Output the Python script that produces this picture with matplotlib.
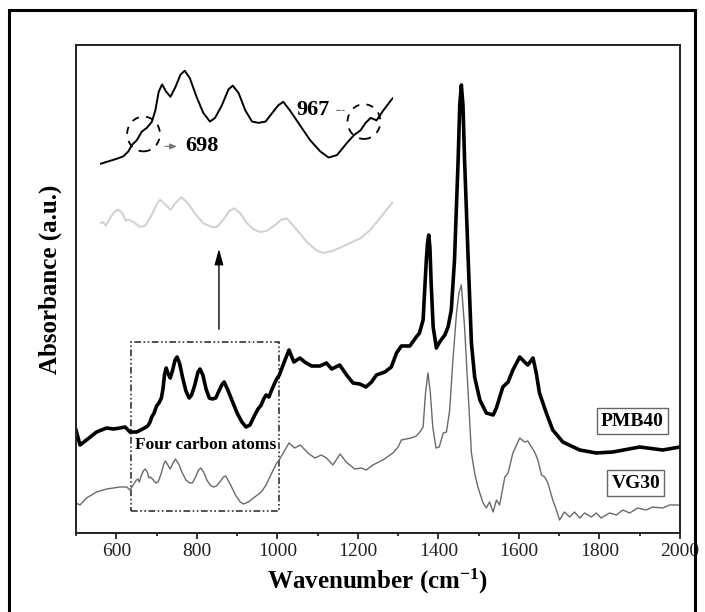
import matplotlib.pyplot as plt
from matplotlib.patches import Ellipse, Rectangle
from matplotlib.ticker import MultipleLocator

plt.rcParams['font.family'] = 'Liberation Serif'
plt.rcParams['mathtext.fontset'] = 'custom'
plt.rcParams['mathtext.rm'] = 'Liberation Serif:bold'

# FTIR spectra, absorbance in arbitrary units (offset for clarity)
pmb40_wn = [500, 510, 526, 551, 576, 593, 609, 622, 634, 651,
            670, 678, 684, 688, 694, 700, 706, 712, 716, 720,
            724, 729, 734, 740, 746, 751, 757, 765, 773, 781,
            787, 795, 803, 808, 815, 823, 831, 839, 847, 855,
            862, 868, 876, 888, 900, 912, 922, 932, 944, 952,
            960, 966, 972, 979, 987, 997, 1005, 1019, 1029, 1041,
            1056, 1068, 1085, 1106, 1122, 1135, 1155, 1172, 1188, 1205,
            1220, 1234, 1246, 1267, 1283, 1296, 1308, 1329, 1345, 1353,
            1362, 1370, 1373, 1376, 1379, 1382, 1387, 1395, 1403, 1416,
            1424, 1432, 1440, 1449, 1453, 1457, 1461, 1465, 1474, 1482,
            1490, 1503, 1519, 1536, 1544, 1560, 1573, 1585, 1602, 1614,
            1622, 1635, 1643, 1651, 1668, 1684, 1709, 1751, 1792, 1833,
            1900, 1957, 2000]
pmb40_abs = [103, 88, 93, 101, 105, 104, 105, 106, 101, 101,
             105, 107, 111, 116, 120, 127, 130, 135, 144, 159,
             165, 159, 155, 163, 173, 176, 170, 155, 142, 135,
             138, 148, 161, 164, 158, 144, 135, 134, 135, 142,
             148, 151, 144, 132, 120, 111, 106, 108, 118, 124,
             128, 134, 138, 136, 144, 153, 158, 173, 183, 171,
             175, 171, 167, 167, 170, 164, 168, 158, 150, 149,
             146, 151, 158, 161, 166, 180, 187, 187, 196, 200,
             213, 273, 290, 298, 285, 250, 206, 185, 191, 198,
             206, 223, 273, 373, 428, 448, 428, 373, 273, 190,
             156, 133, 120, 118, 125, 146, 151, 163, 176, 171,
             168, 175, 160, 140, 120, 103, 91, 83, 80, 81,
             86, 83, 86]

vg30_wn = [500, 510, 526, 551, 576, 609, 626, 634, 650, 654,
           657, 662, 667, 672, 677, 681, 684, 690, 698, 704,
           712, 718, 722, 728, 734, 741, 747, 755, 763, 773,
           783, 789, 797, 804, 810, 817, 825, 833, 841, 849,
           859, 866, 872, 876, 884, 896, 908, 916, 928, 944,
           960, 972, 984, 997, 1006, 1029, 1043, 1057, 1076, 1093,
           1109, 1122, 1138, 1156, 1171, 1192, 1208, 1221, 1237, 1262,
           1287, 1300, 1308, 1332, 1345, 1354, 1362, 1368, 1374, 1380,
           1386, 1394, 1402, 1412, 1420, 1428, 1436, 1445, 1451, 1457,
           1465, 1474, 1482, 1490, 1498, 1511, 1519, 1527, 1536, 1544,
           1552, 1565, 1573, 1585, 1602, 1614, 1622, 1631, 1639, 1647,
           1656, 1664, 1672, 1684, 1693, 1701, 1713, 1726, 1738, 1751,
           1763, 1780, 1792, 1804, 1825, 1842, 1858, 1875, 1895, 1916,
           1932, 1957, 1974, 2000]
vg30_abs = [30, 28, 35, 41, 44, 46, 46, 43, 53, 54,
            51, 57, 62, 64, 61, 55, 56, 54, 50, 51,
            60, 69, 72, 68, 64, 70, 74, 69, 61, 53,
            50, 50, 56, 63, 65, 61, 53, 48, 46, 47,
            52, 56, 57, 54, 48, 38, 31, 29, 31, 36,
            41, 48, 58, 69, 74, 90, 85, 88, 80, 75,
            78, 75, 68, 79, 71, 64, 65, 63, 68, 73,
            80, 86, 93, 95, 97, 101, 106, 140, 160, 140,
            106, 85, 86, 100, 101, 123, 173, 220, 240, 248,
            206, 140, 80, 60, 46, 30, 25, 31, 21, 33,
            28, 56, 60, 80, 95, 91, 92, 86, 81, 73,
            58, 56, 50, 33, 23, 13, 21, 16, 21, 15,
            20, 16, 20, 15, 20, 18, 23, 20, 25, 23,
            26, 25, 28, 28]

sample_names = ['PMB40', 'VG30']
peak_labels = ['698', '967']

fig = plt.figure(figsize=(7.05, 6.12), dpi=100)

# frame round the whole picture (bottom edge is cut off in the original)
fig.patches.append(Rectangle((9 / 705, -0.02), 686 / 705, 1.0037,
                             transform=fig.transFigure, fill=False,
                             lw=2.2, ec='black'))

ax = fig.add_axes([76 / 705, 79 / 612, 604 / 705, 488 / 612])
ax.plot(pmb40_wn, pmb40_abs, color='black', lw=2.6, solid_joinstyle='round')
ax.plot(vg30_wn, vg30_abs, color='#6a6a6a', lw=1.0)

ax.set_xlim(500, 2000)
ax.set_ylim(0, 488)
ax.xaxis.set_major_locator(MultipleLocator(200))
ax.xaxis.set_minor_locator(MultipleLocator(100))
ax.set_yticks([])
ax.tick_params(axis='x', which='major', direction='out', length=4.5, width=1.1,
               labelsize=14, pad=3, labelcolor='#222222')
ax.tick_params(axis='x', which='minor', direction='out', length=2.5, width=1.1)
for s in ax.spines.values():
    s.set_linewidth(1.4)
    s.set_color('#222222')

ax.set_xlabel('Wavenumber (cm$\\mathregular{^{-1}}$)', fontsize=18, fontweight='bold')
ax.xaxis.set_label_coords(0.5, -0.07)
ax.set_ylabel('Absorbance (a.u.)', fontsize=18, fontweight='bold')
ax.yaxis.set_label_coords(-0.024, 0.52)

# sample labels
ax.text(1882, 112, sample_names[0], ha='center', va='center', fontsize=14,
        fontweight='bold', bbox=dict(boxstyle='square,pad=0.22', fc='white',
                                     ec='#666666', lw=1))
ax.text(1890, 50, sample_names[1], ha='center', va='center', fontsize=14,
        fontweight='bold', bbox=dict(boxstyle='square,pad=0.22', fc='white',
                                     ec='#666666', lw=1))

# dashed region + label
ax.add_patch(Rectangle((636, 22), 369, 169, fill=False, ec='#333333', lw=1.2,
                       ls=(0, (4, 1.5, 1, 1.5, 1, 1.5))))
ax.text(822, 88, 'Four carbon atoms', ha='center', va='center', fontsize=12.5,
        fontweight='bold')
ax.annotate('', xy=(855, 287), xytext=(855, 201),
            arrowprops=dict(arrowstyle='-|>,head_length=0.8,head_width=0.22',
                            color='black', lw=1.0, mutation_scale=12))

# magnified view of the boxed region
ins = fig.add_axes([99.8 / 705, (612 - 264.2) / 612, 293.6 / 705, 210.8 / 612])
ins.axis('off')
ins.set_xlim(650, 999)
ins.set_ylim(20, 190)
ins.plot(vg30_wn, vg30_abs, color='#d2d2d2', lw=1.5, solid_joinstyle='round')
ins.plot(pmb40_wn, pmb40_abs, color='black', lw=1.4, solid_joinstyle='round')

for cx, cy in [(702, 125), (964, 135)]:
    ins.add_patch(Ellipse((cx, cy), 39, 28, fill=False, ec='black', lw=1.3,
                          ls=(0, (4, 4)), clip_on=False))

ins.text(771, 115, peak_labels[0], ha='center', va='center', fontsize=16,
         fontweight='bold')
ins.annotate('', xy=(745, 115), xytext=(724, 115),
             arrowprops=dict(arrowstyle='-|>,head_length=0.6,head_width=0.25',
                             color='#777777', lw=0.8, mutation_scale=7))
ins.text(904, 144, peak_labels[1], ha='center', va='center', fontsize=16,
         fontweight='bold')
ins.annotate('', xy=(944, 144), xytext=(928, 144),
             arrowprops=dict(arrowstyle='-', color='#777777', lw=0.8, ls='--'))

fig.savefig('out.png', dpi=100)
